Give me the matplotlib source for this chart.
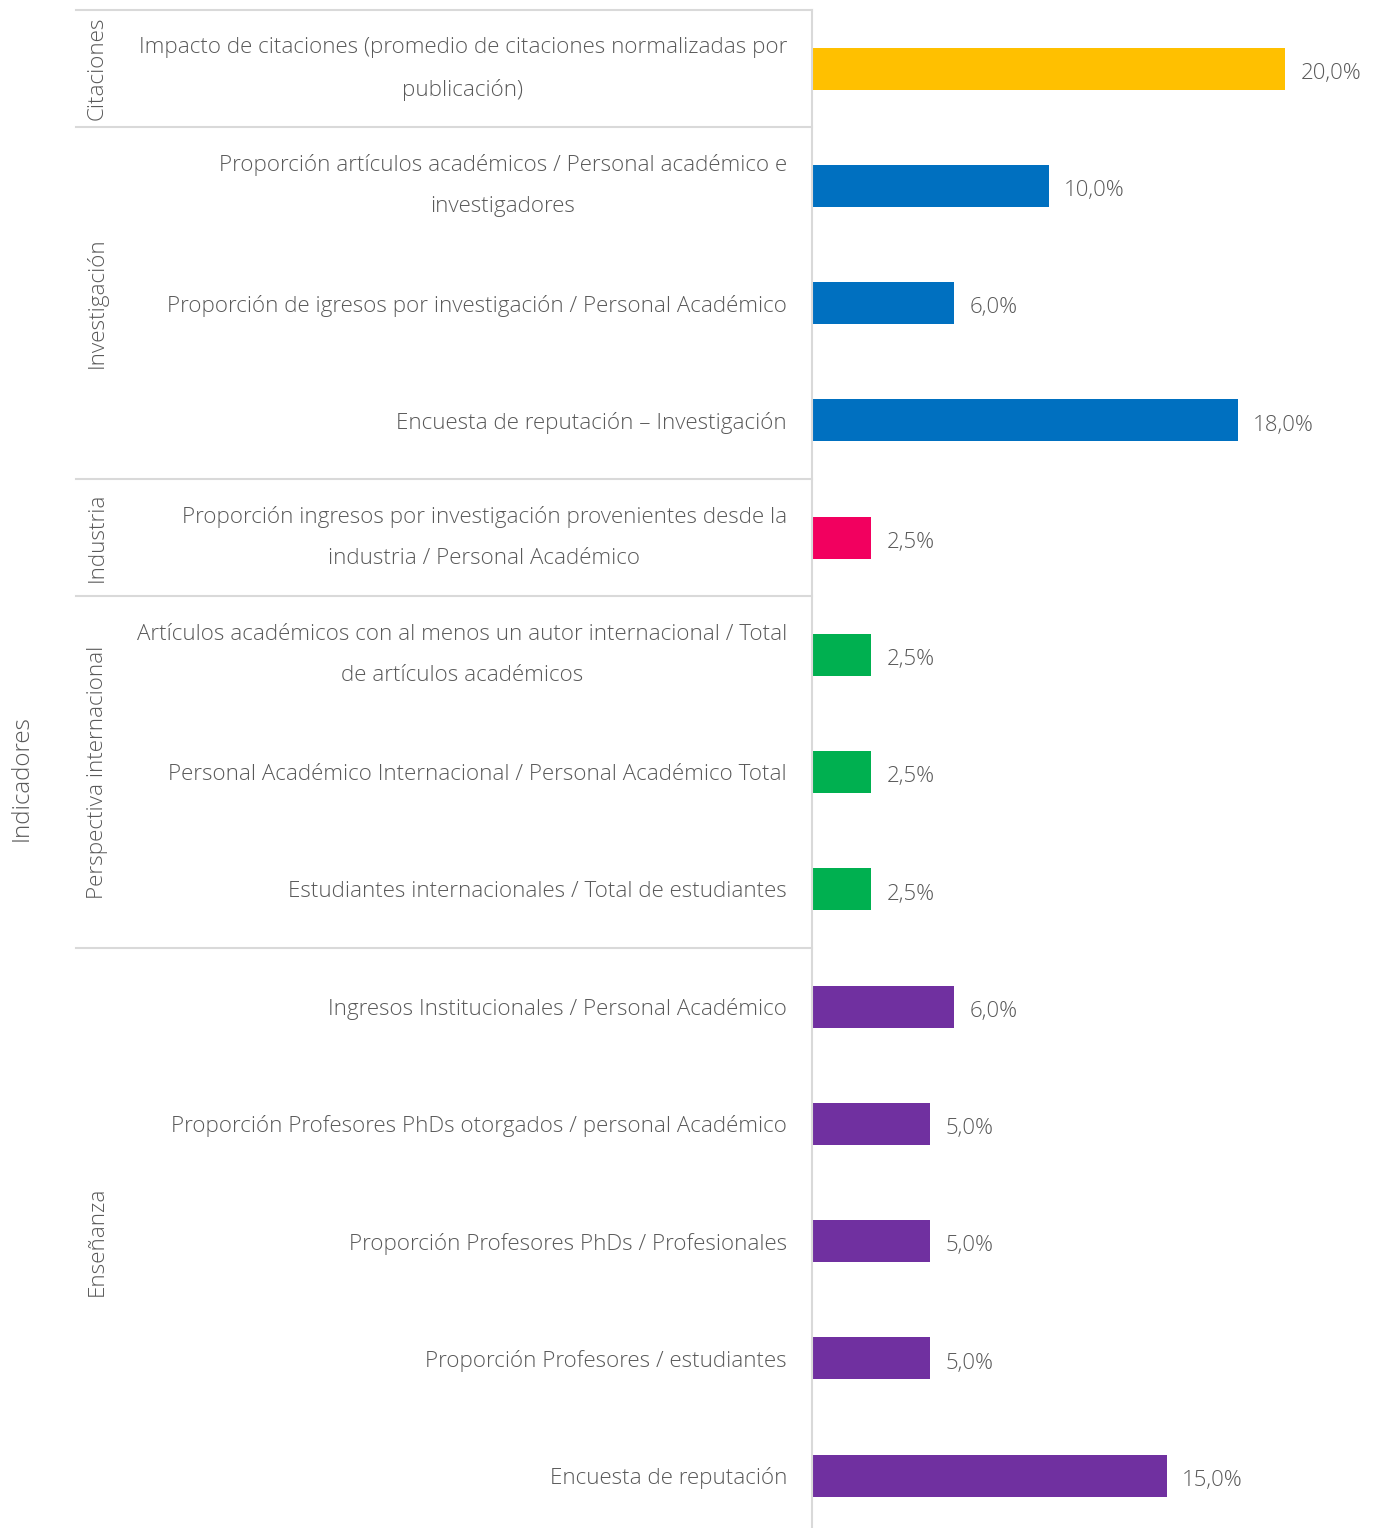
import matplotlib.pyplot as plt
from matplotlib.transforms import blended_transform_factory

# datos
indicadores = [
    "Impacto de citaciones (promedio de citaciones normalizadas por\npublicación)",
    "Proporción artículos académicos / Personal académico e\ninvestigadores",
    "Proporción de igresos por investigación / Personal Académico",
    "Encuesta de reputación – Investigación",
    "Proporción ingresos por investigación provenientes desde la\nindustria / Personal Académico",
    "Artículos académicos con al menos un autor internacional / Total\nde artículos académicos",
    "Personal Académico Internacional / Personal Académico Total",
    "Estudiantes internacionales / Total de estudiantes",
    "Ingresos Institucionales / Personal Académico",
    "Proporción Profesores PhDs otorgados / personal Académico",
    "Proporción Profesores PhDs / Profesionales",
    "Proporción Profesores / estudiantes",
    "Encuesta de reputación",
]
pesos = [20.0, 10.0, 6.0, 18.0, 2.5, 2.5, 2.5, 2.5, 6.0, 5.0, 5.0, 5.0, 15.0]
grupo_idx = [0, 1, 1, 1, 2, 3, 3, 3, 4, 4, 4, 4, 4]
grupos = ["Citaciones", "Investigación", "Industria", "Perspectiva internacional", "Enseñanza"]
colores = ["#FFC000", "#0070C0", "#F2005F", "#00B050", "#7030A0"]


def main():
    plt.rcParams['font.family'] = ['Open Sans', 'DejaVu Sans']
    gris = "#595959"
    W, H = 1376, 1528
    fig = plt.figure(figsize=(W / 100, H / 100), dpi=100)
    n = len(indicadores)
    row_px = 117.25
    top = 1 - 10 / H
    height = n * row_px / H
    ax = fig.add_axes([812 / W, top - height, 564 / W, height])

    y = list(range(n))
    cols = [colores[g] for g in grupo_idx]
    ax.barh(y, pesos, height=0.36, color=cols)
    ax.set_ylim(n - 0.5, -0.5)
    ax.set_xlim(0, 564 / 23.65)

    for yi, v in zip(y, pesos):
        ax.annotate(f"{v:.1f}%".replace(".", ","), (v, yi), xytext=(11, -3.5),
                    textcoords="offset points", va="center", ha="left",
                    fontsize=16, color=gris, fontweight="light")

    ax.set_yticks(y)
    ax.set_yticklabels(indicadores, fontsize=16.1, color=gris, fontweight="light",
                       linespacing=2.25)
    for t in ax.get_yticklabels():
        t.set_multialignment("center")
        if "\n" in t.get_text():
            t.set_verticalalignment("center")
    ax.tick_params(axis="y", length=0, pad=18)
    ax.set_xticks([])
    for s in ["top", "right", "bottom"]:
        ax.spines[s].set_visible(False)
    ax.spines["left"].set_color("#d9d9d9")
    ax.spines["left"].set_linewidth(1.5)

    tr = blended_transform_factory(fig.transFigure, ax.transData)
    # separadores de grupos
    bordes = [-0.5] + [i + 0.5 for i in range(n - 1) if grupo_idx[i] != grupo_idx[i + 1]]
    for b in bordes:
        ax.plot([76 / W, 812 / W], [b, b], transform=tr, color="#d9d9d9",
                lw=1.5, clip_on=False)

    # nombres de grupo
    for g, nombre in enumerate(grupos):
        filas = [i for i in range(n) if grupo_idx[i] == g]
        centro = (filas[0] + filas[-1]) / 2
        ax.text(97 / W, centro, nombre, transform=tr, rotation=90, ha="center",
                va="center", fontsize=16.2, color=gris, fontweight="light")

    fig.text(22 / W, 1 - 778 / H, "Indicadores", rotation=90, ha="center",
             va="center", fontsize=17.4, color=gris, fontweight="light")

    fig.savefig("out.png", dpi=100)


if __name__ == '__main__':
    main()
